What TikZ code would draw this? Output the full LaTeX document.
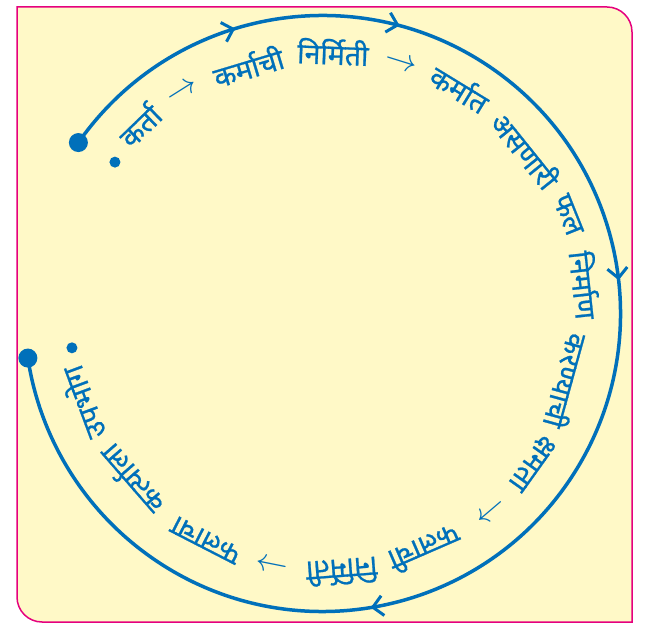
\documentclass[tikz,border=0pt]{standalone}
\usepackage{fontspec}
\newfontfamily\dev[Script=Devanagari, FakeBold=0.8]{Noto Sans}
\usetikzlibrary{arrows.meta,decorations.markings}
\definecolor{cycblue}{RGB}{0,112,186}
\definecolor{bgyellow}{RGB}{255,249,199}
\definecolor{framepink}{RGB}{229,0,126}
\newcommand{\cycarrow}{\scalebox{1.3}{$\rightarrow$}}
\begin{document}
\begin{tikzpicture}[x=1pt,y=1pt,
  word/.style={text=cycblue, font=\dev\fontsize{28.5}{32}\selectfont, inner sep=0pt},
  bigdot/.style={circle, fill=cycblue, minimum size=19pt, inner sep=0pt},
  smalldot/.style={circle, fill=cycblue, minimum size=11pt, inner sep=0pt},
  cyc/.style={draw=cycblue, line width=3.5pt},
  chevron/.tip={Straight Barb[length=10pt,width=20pt,line width=3pt]}
]
\useasboundingbox (0,0) rectangle (652,626);
\fill[bgyellow, draw=framepink, line width=1.5pt]
  (17,619) -- (607,619) arc (90:0:25) -- (632,4) -- (42,4) arc (270:180:25) -- cycle;
\coordinate (c) at (322.5,312.5);
\draw[cyc, postaction={decorate}, decoration={markings,
   mark=at position 0.120 with {\arrow{chevron}},
   mark=at position 0.2212 with {\arrow{chevron}},
   mark=at position 0.438 with {\arrow{chevron}},
   mark=at position 0.7133 with {\arrow{chevron}}}]
  ([shift={(145:298)}]c) arc (145:-171.4:298);
\node[bigdot] (start) at ([shift={(145:298)}]c) {};
\node[bigdot] (end) at ([shift={(188.6:298)}]c) {};
\node[smalldot] (b1) at ([shift={(143.9:256.9)}]c) {};
\node[smalldot] (b2) at ([shift={(-172.2:252.9)}]c) {};
\foreach \ang/\rad/\txt/\nm in {
  134.2/263/कर्ता/t1,
  122.2/262/\cycarrow/a1,
  106.75/258.5/कर्माची/t2,
  87.7/261.7/निर्मिती/t3,
  72.7/261.3/\cycarrow/a2,
  58.6/264/कर्मात/t4,
  38.8/261/असणारी/t5,
  21.9/264.5/फल/t6,
  6.2/264/निर्माण/t7,
  -15.4/254/करण्याची/t8,
  -35.5/257/क्षमता/t9,
  -49.6/257/\cycarrow/a3,
  -66.5/257/फलाची/t10,
  -85.7/259/निर्मिती/t11,
  -101.3/253.4/\cycarrow/a4,
  -117.2/254.7/फलाचा/t12,
  -139/253.8/कर्त्याला/t13,
  -159.6/256.6/उपभोग/t14}
  {\node[word, rotate=\ang-90] (\nm) at ([shift={(\ang:\rad)}]c) {\txt};}
\end{tikzpicture}
\end{document}
